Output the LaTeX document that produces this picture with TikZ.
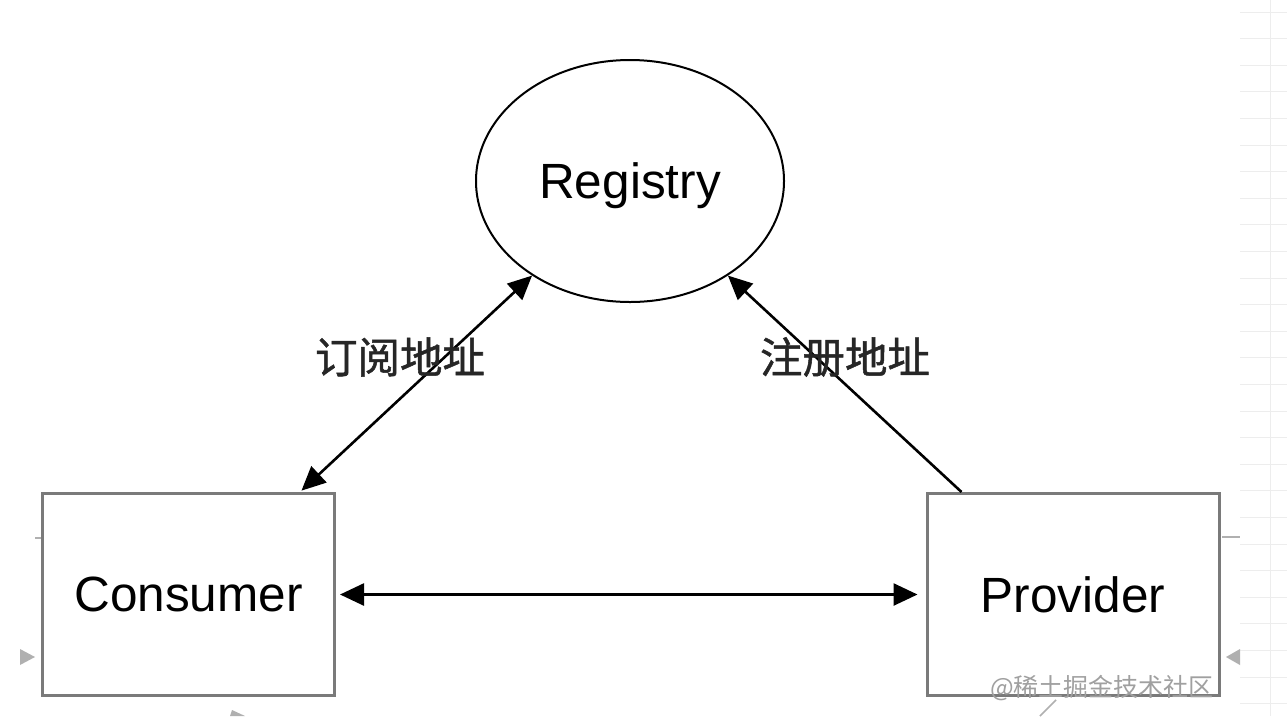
\documentclass[tikz,border=0pt]{standalone}
\usepackage{fontspec}
\setmainfont{Liberation Sans}
\newfontfamily\cjk{Noto Sans CJK SC}
\newfontfamily\cjkb[FakeBold=1.2]{Noto Sans CJK SC}
\usetikzlibrary{shapes.geometric,arrows.meta,calc}
\definecolor{boxgray}{HTML}{7A7A7A}
\definecolor{wmgray}{HTML}{A0A0A0}
\definecolor{gridgray}{HTML}{EDEDED}
\definecolor{artgray}{HTML}{B0B0B0}
\tikzset{
  x=1pt, y=-1pt,
  bigfont/.style={font=\fontsize{49.5}{55}\selectfont},
  cnfont/.style={font=\cjkb\fontsize{42.5}{46}\selectfont},
  compbox/.style={draw=boxgray, line width=3pt, minimum width=292pt, minimum height=202pt, inner sep=0pt, bigfont},
  regnode/.style={draw=black, line width=2pt, ellipse, minimum width=308pt, minimum height=242pt, inner sep=0pt, bigfont},
  conn/.style={draw=black, line width=2.6pt, -{Triangle[length=24pt,width=22pt]}},
  conn2/.style={draw=black, line width=2.6pt, {Triangle[length=24pt,width=22pt]}-{Triangle[length=24pt,width=22pt]}},
  lbl/.style={cnfont, text=black!85, inner sep=0pt},
}
\begin{document}
\begin{tikzpicture}
\useasboundingbox (0,0) rectangle (1287,716);
\fill[white] (0,0) rectangle (1287,716);
% faint grid at the right edge
\draw[gridgray, line width=1pt] (1270,0) -- (1270,716);
\foreach \yy in {12,38.6,65.2,91.8,118.4,145,171.6,198.2,224.8,251.4,278,304.6,331.2,357.8,384.4,411,437.6,464.2,490.8,517.4,544,570.6,597.2,623.8,650.4,677,703.6}
  \draw[gridgray, line width=1pt] (1240,\yy) -- (1287,\yy);
% faint screenshot artefacts
\fill[artgray] (20,649) -- (35,657) -- (20,665) -- cycle;
\draw[artgray, line width=2pt] (35,538) -- (42,538);
\fill[artgray] (230,716) -- (232,710) -- (245,716) -- cycle;
\draw[artgray, line width=2pt] (1222,537) -- (1240,537);
\fill[artgray] (1240,649) -- (1226,657) -- (1240,665) -- cycle;
\draw[artgray, line width=1.5pt] (1040,716) -- (1056,700);

\node[regnode] (reg) at (630,181) {\raisebox{-5pt}[\height][\depth]{Registry}};
\node[compbox] (con) at (188.5,594.5) {Consumer};
\node[compbox] (pro) at (1073,594.5) {Provider};

\draw[conn2, shorten <=2pt] ($(con.north east)+(-36,0)$) -- (reg.224);
\draw[conn] ($(pro.north west)+(36,0)$) -- (reg.316);
\draw[conn2, shorten <=4pt, shorten >=8pt] (con.east) -- (pro.west);

\node[lbl] (sub) at (400,357) {订阅地址};
\node[lbl] (regi) at (845,357) {注册地址};

\node[font=\cjk\fontsize{25}{28}\selectfont, text=wmgray, inner sep=0pt] (wm) at (1102,688) {@稀土掘金技术社区};
\end{tikzpicture}
\end{document}
